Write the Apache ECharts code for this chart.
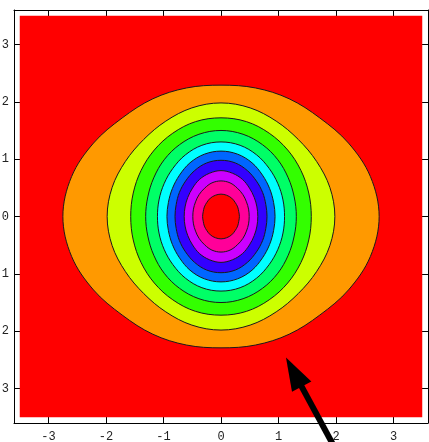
<!DOCTYPE html>
<html>
<head>
<meta charset="utf-8">
<script src="https://cdn.jsdelivr.net/npm/echarts@6/dist/echarts.min.js"></script>
<style>
  html, body { margin: 0; padding: 0; background: #ffffff; }
  #chart { width: 429px; height: 442px; }
</style>
</head>
<body>
<div id="chart"></div>
<script>
// Contour boundaries, as radii (plot units) sampled at these polar angles (degrees)
// in the first quadrant. The field is symmetric about both axes, so the other
// three quadrants reuse the same radii.
const contourAngles = [0, 15, 30, 45, 60, 75, 90];
const level1 = [2.75, 2.69, 2.56, 2.43, 2.37, 2.32, 2.29];
const level2 = [1.98, 1.96, 1.92, 1.90, 1.92, 1.96, 1.98];
const level3 = [1.57, 1.58, 1.605, 1.64, 1.677, 1.712, 1.72];
const level4 = [1.31, 1.318, 1.35, 1.398, 1.445, 1.484, 1.50];
const level5 = [1.105, 1.116, 1.143, 1.185, 1.24, 1.285, 1.30];
const level6 = [0.94, 0.947, 0.976, 1.02, 1.08, 1.124, 1.14];
const level7 = [0.80, 0.807, 0.836, 0.872, 0.922, 0.966, 0.98];
const level8 = [0.64, 0.647, 0.667, 0.70, 0.747, 0.78, 0.80];
const level9 = [0.49, 0.496, 0.511, 0.539, 0.57, 0.607, 0.62];
const level10 = [0.32, 0.32, 0.334, 0.348, 0.37, 0.383, 0.39];
const contourLevels = [level1, level2, level3, level4, level5, level6, level7, level8, level9, level10];

// Hue steps of 0.1 for each band inside the matching contour
const outerBandColor = '#FF0000';
const bandColors = ['#FF9900', '#CCFF00', '#33FF00', '#00FF66', '#00FFFF',
                    '#0066FF', '#3300FF', '#CC00FF', '#FF0099', '#FF0000'];

const plotRange = [-3.5, 3.5];
const frameRange = [-3.6, 3.6];
const tickValues = [-3, -2, -1, 0, 1, 2, 3];

// Annotation arrow, in plot units
const arrowTail = [1.95, -3.98];
const arrowTip = [1.13, -2.46];

const chart = echarts.init(document.getElementById('chart'), null, { renderer: 'canvas' });

function ringPoints(radii, api) {
  const pts = [];
  const n = contourAngles.length;
  const push = (deg, r) => {
    const t = deg * Math.PI / 180;
    pts.push(api.coord([r * Math.cos(t), r * Math.sin(t)]));
  };
  for (let k = 0; k < n; k++) push(contourAngles[k], radii[k]);
  for (let k = n - 2; k >= 0; k--) push(180 - contourAngles[k], radii[k]);
  for (let k = 1; k < n; k++) push(180 + contourAngles[k], radii[k]);
  for (let k = n - 2; k >= 1; k--) push(360 - contourAngles[k], radii[k]);
  return pts;
}

const labelFont = { fontFamily: 'Liberation Mono', fontSize: 12, color: '#222' };
const frameLine = { show: true, onZero: false, lineStyle: { color: '#000', width: 1 } };

function majorAxis(position, withLabels, margin) {
  return {
    type: 'value', position, min: frameRange[0], max: frameRange[1],
    axisLine: frameLine,
    axisTick: { show: true, inside: true, length: 6, customValues: tickValues,
                lineStyle: { color: '#000', width: 1 } },
    axisLabel: withLabels
      ? Object.assign({ show: true, customValues: tickValues, margin: margin,
                        hideOverlap: false }, labelFont)
      : { show: false },
    splitLine: { show: false }
  };
}
function minorAxis(position) {
  return {
    type: 'value', position, min: frameRange[0], max: frameRange[1], interval: 0.2,
    axisLine: { show: false },
    axisTick: { show: true, inside: true, length: 3, lineStyle: { color: '#000', width: 1 } },
    axisLabel: { show: false },
    splitLine: { show: false }
  };
}

const option = {
  animation: false,
  backgroundColor: '#ffffff',
  grid: { left: 14, right: 1, top: 10, bottom: 19, containLabel: false, outerBoundsMode: 'none' },
  xAxis: [majorAxis('bottom', true, 8), minorAxis('bottom'), majorAxis('top', false), minorAxis('top')],
  yAxis: [majorAxis('left', true, 5), minorAxis('left'), majorAxis('right', false), minorAxis('right')],
  series: [
    {
      type: 'custom',
      xAxisIndex: 0, yAxisIndex: 0,
      data: [[0, 0]],
      renderItem: (params, api) => {
        const p0 = api.coord([plotRange[0], plotRange[1]]);
        const p1 = api.coord([plotRange[1], plotRange[0]]);
        return {
          type: 'rect',
          shape: { x: p0[0], y: p0[1], width: p1[0] - p0[0], height: p1[1] - p0[1] },
          style: { fill: outerBandColor }
        };
      }
    },
    {
      type: 'custom',
      xAxisIndex: 0, yAxisIndex: 0,
      data: contourLevels.map(() => [0, 0]),
      renderItem: (params, api) => ({
        type: 'polygon',
        shape: { points: ringPoints(contourLevels[params.dataIndex], api), smooth: 0.35 },
        style: { fill: bandColors[params.dataIndex], stroke: '#1a1a1a', lineWidth: 1 }
      })
    },
    {
      type: 'custom',
      xAxisIndex: 0, yAxisIndex: 0,
      clip: false,
      z: 10,
      data: [[0, 0]],
      renderItem: (params, api) => {
        const tail = api.coord(arrowTail);
        const tip = api.coord(arrowTip);
        const dx = tip[0] - tail[0], dy = tip[1] - tail[1];
        const len = Math.hypot(dx, dy);
        const ux = dx / len, uy = dy / len;
        const headLen = 33, headHalf = 11;
        const bx = tip[0] - ux * headLen, by = tip[1] - uy * headLen;
        return {
          type: 'group',
          children: [
            { type: 'line',
              shape: { x1: tail[0], y1: tail[1], x2: bx + ux * 2, y2: by + uy * 2 },
              style: { stroke: '#000', lineWidth: 6 } },
            { type: 'polygon',
              shape: { points: [tip, [bx - uy * headHalf, by + ux * headHalf], [bx + uy * headHalf, by - ux * headHalf]] },
              style: { fill: '#000' } }
          ]
        };
      }
    }
  ]
};
chart.setOption(option);
</script>
</body>
</html>
